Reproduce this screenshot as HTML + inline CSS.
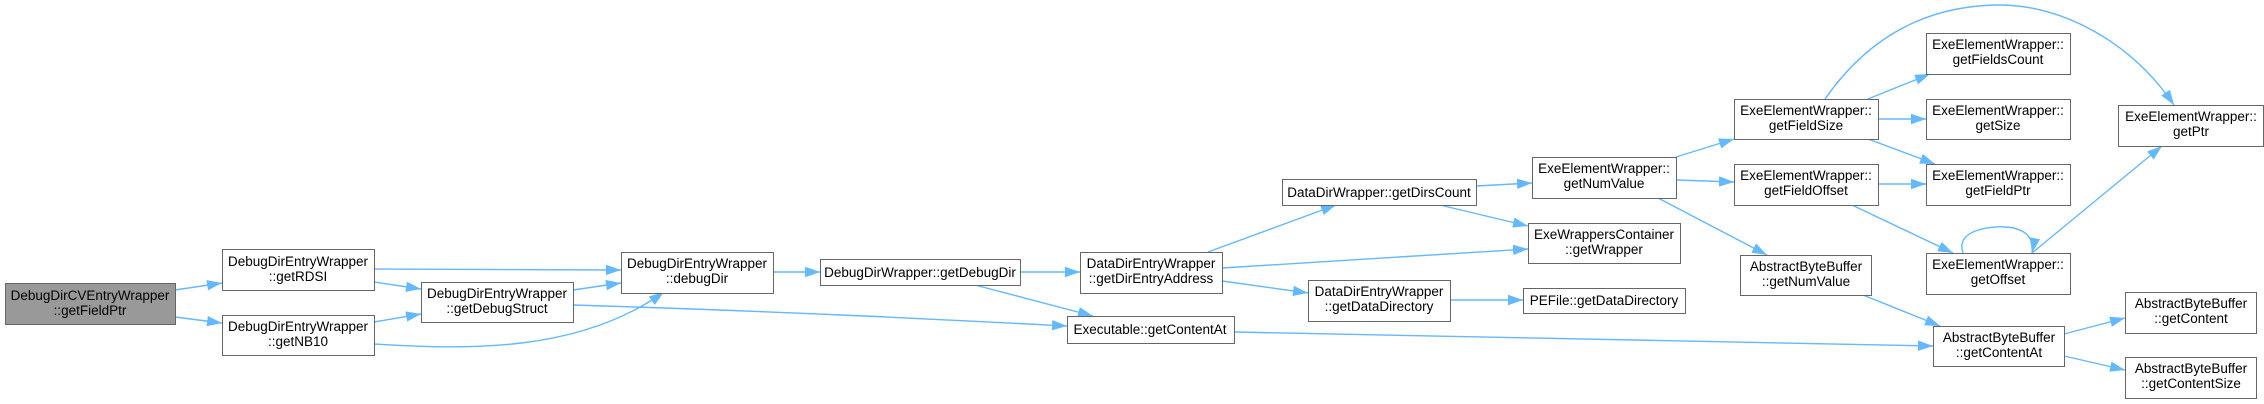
<!DOCTYPE html>
<html><head><meta charset="utf-8"><style>
html,body{margin:0;padding:0;background:#fff;width:2264px;height:404px;overflow:hidden}
text{font-family:"Liberation Sans",Arial,sans-serif;font-size:13.5px;fill:#000;text-anchor:middle}
</style></head><body>
<svg width="2264" height="404" viewBox="0 0 2264 404" xmlns="http://www.w3.org/2000/svg">
<defs>
<marker id="a" markerUnits="userSpaceOnUse" markerWidth="16" markerHeight="12" refX="15" refY="6" orient="auto">
<path d="M0,0.8 L15,6 L0,11.2 Z" fill="#63b8ff"/>
</marker>
</defs>
<g fill="none" stroke="#63b8ff" stroke-width="1.4" marker-end="url(#a)">
<path d="M175,290 L222,283"/>
<path d="M175,317 L222,323"/>
<path d="M374,269 L621,270"/>
<path d="M374,282 L421,289"/>
<path d="M374,322 L421,314"/>
<path d="M573,290 L621,283"/>
<path d="M573,305 C800,312 950,320 1067,326"/>
<path d="M374,344 C470,350 580,352 664,292"/>
<path d="M773,272 L820,272"/>
<path d="M1020,272 L1080,272"/>
<path d="M975,285 L1093,316"/>
<path d="M1208,252 L1336,205"/>
<path d="M1222,268 L1528,249"/>
<path d="M1222,281 L1308,293"/>
<path d="M1450,300 L1523,300"/>
<path d="M1476,186 L1532,183"/>
<path d="M1440,205 L1528,226"/>
<path d="M1234,332 L1933,346"/>
<path d="M1676,157 L1734,139"/>
<path d="M1677,180 L1734,182"/>
<path d="M1658,198 L1767,255"/>
<path d="M1868,99 L1930,74"/>
<path d="M1878,119 L1926,119"/>
<path d="M1868,139 L1935,164"/>
<path d="M1825,99 C1880,20 1950,5 2000,5 C2060,5 2130,40 2174,105"/>
<path d="M1878,184 L1926,184"/>
<path d="M1852,205 L1953,253"/>
<path d="M1963,253 C1955,230 1990,226 2005,227 C2025,228 2035,238 2032,253"/>
<path d="M2032,253 L2162,146"/>
<path d="M1863,295 L1940,326"/>
<path d="M2064,334 L2125,318"/>
<path d="M2064,356 L2125,370"/>
</g>
<g stroke="#666" stroke-width="1">
<rect x="5.5" y="283.5" width="170" height="41" fill="#999"/>
<rect x="222.5" y="249.5" width="152" height="41" fill="#fff"/>
<rect x="222.5" y="315.5" width="152" height="40" fill="#fff"/>
<rect x="421.5" y="282.5" width="152" height="40" fill="#fff"/>
<rect x="621.5" y="252.5" width="152" height="41" fill="#fff"/>
<rect x="820.5" y="259.5" width="200" height="26" fill="#fff"/>
<rect x="1080.5" y="252.5" width="142" height="41" fill="#fff"/>
<rect x="1067.5" y="316.5" width="167" height="27" fill="#fff"/>
<rect x="1282.5" y="179.5" width="194" height="26" fill="#fff"/>
<rect x="1308.5" y="280.5" width="142" height="41" fill="#fff"/>
<rect x="1532.5" y="157.5" width="144" height="41" fill="#fff"/>
<rect x="1528.5" y="223.5" width="152" height="40" fill="#fff"/>
<rect x="1523.5" y="288.5" width="162" height="25" fill="#fff"/>
<rect x="1734.5" y="99.5" width="144" height="40" fill="#fff"/>
<rect x="1734.5" y="164.5" width="144" height="41" fill="#fff"/>
<rect x="1740.5" y="255.5" width="131" height="40" fill="#fff"/>
<rect x="1926.5" y="33.5" width="144" height="41" fill="#fff"/>
<rect x="1926.5" y="99.5" width="144" height="40" fill="#fff"/>
<rect x="1926.5" y="164.5" width="144" height="41" fill="#fff"/>
<rect x="1926.5" y="253.5" width="144" height="41" fill="#fff"/>
<rect x="1933.5" y="326.5" width="131" height="40" fill="#fff"/>
<rect x="2118.5" y="105.5" width="145" height="41" fill="#fff"/>
<rect x="2125.5" y="292.5" width="131" height="41" fill="#fff"/>
<rect x="2125.5" y="357.5" width="131" height="41" fill="#fff"/>
</g>
<g>
<text x="90" y="300">DebugDirCVEntryWrapper</text><text x="90" y="315">::getFieldPtr</text>
<text x="298" y="266">DebugDirEntryWrapper</text><text x="298" y="281">::getRDSI</text>
<text x="298" y="331">DebugDirEntryWrapper</text><text x="298" y="346">::getNB10</text>
<text x="497" y="298">DebugDirEntryWrapper</text><text x="497" y="313">::getDebugStruct</text>
<text x="697" y="268">DebugDirEntryWrapper</text><text x="697" y="283">::debugDir</text>
<text x="920" y="277">DebugDirWrapper::getDebugDir</text>
<text x="1151" y="268">DataDirEntryWrapper</text><text x="1151" y="283">::getDirEntryAddress</text>
<text x="1150" y="334">Executable::getContentAt</text>
<text x="1379" y="197">DataDirWrapper::getDirsCount</text>
<text x="1379" y="296">DataDirEntryWrapper</text><text x="1379" y="311">::getDataDirectory</text>
<text x="1604" y="173">ExeElementWrapper::</text><text x="1604" y="188">getNumValue</text>
<text x="1604" y="239">ExeWrappersContainer</text><text x="1604" y="254">::getWrapper</text>
<text x="1604" y="305">PEFile::getDataDirectory</text>
<text x="1806" y="115">ExeElementWrapper::</text><text x="1806" y="130">getFieldSize</text>
<text x="1806" y="180">ExeElementWrapper::</text><text x="1806" y="195">getFieldOffset</text>
<text x="1806" y="271">AbstractByteBuffer</text><text x="1806" y="286">::getNumValue</text>
<text x="1998" y="49">ExeElementWrapper::</text><text x="1998" y="64">getFieldsCount</text>
<text x="1998" y="115">ExeElementWrapper::</text><text x="1998" y="130">getSize</text>
<text x="1998" y="180">ExeElementWrapper::</text><text x="1998" y="195">getFieldPtr</text>
<text x="1998" y="269">ExeElementWrapper::</text><text x="1998" y="284">getOffset</text>
<text x="1999" y="342">AbstractByteBuffer</text><text x="1999" y="357">::getContentAt</text>
<text x="2191" y="121">ExeElementWrapper::</text><text x="2191" y="136">getPtr</text>
<text x="2191" y="308">AbstractByteBuffer</text><text x="2191" y="323">::getContent</text>
<text x="2191" y="373">AbstractByteBuffer</text><text x="2191" y="388">::getContentSize</text>
</g>
</svg>
</body></html>
